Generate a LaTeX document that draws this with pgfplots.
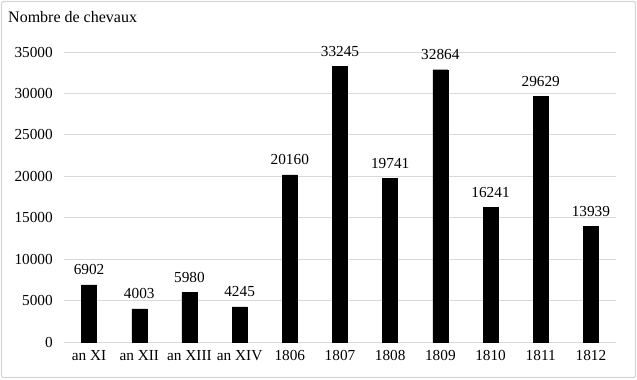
\documentclass[border=0pt]{standalone}
\usepackage{pgfplots}
\pgfplotsset{compat=1.18}
\usepackage{fontspec}
\setmainfont{Liberation Serif}
\definecolor{gridc}{RGB}{217,217,217}
\definecolor{framec}{RGB}{214,214,214}
\begin{document}
\fontsize{15bp}{18bp}\selectfont
\begin{tikzpicture}[x=1bp,y=1bp]
\path[use as bounding box] (-64,-37) rectangle (573,342);
\draw[framec, line width=1.2bp, rounded corners=2bp] (-62.5,-35.5) rectangle (571.5,340.5);
\begin{axis}[
  at={(0,0)}, anchor=south west,
  scale only axis,
  width=552bp, height=290bp,
  xmin=-0.5, xmax=10.5,
  ymin=0, ymax=35000,
  ytick={0,5000,...,35000},
  xtick={0,...,10},
  xticklabels={an XI,an XII,an XIII,an XIV,1806,1807,1808,1809,1810,1811,1812},
  axis line style={draw=none},
  tick style={draw=none},
  ymajorgrids, major grid style={gridc, line width=1bp},
  scaled y ticks=false,
  /pgf/number format/assume math mode=true,
  yticklabel style={/pgf/number format/1000 sep={}, xshift=-6bp},
  xticklabel style={yshift=-3bp},
  ticklabel style={font=\fontsize{15.3bp}{18bp}\selectfont},
  nodes near coords,
  every node near coord/.append style={font=\fontsize{15.3bp}{18bp}\selectfont, yshift=5bp,
    /pgf/number format/1000 sep={}},
  point meta=explicit symbolic,
  clip=false,
]
\addplot[ybar, bar width=15bp, fill=black, draw=black] coordinates {
 (0,6902) [6902]
 (1,4003) [4003]
 (2,5980) [5980]
 (3,4245) [4245]
 (4,20160) [20160]
 (5,33245) [33245]
 (6,19741) [19741]
 (7,32864) [32864]
 (8,16241) [16241]
 (9,29629) [29629]
 (10,13939) [13939]
};
\end{axis}
\node[anchor=base west, inner sep=0pt, font=\fontsize{16bp}{19bp}\selectfont] at (-56,320) {Nombre de chevaux};
\end{tikzpicture}
\end{document}
